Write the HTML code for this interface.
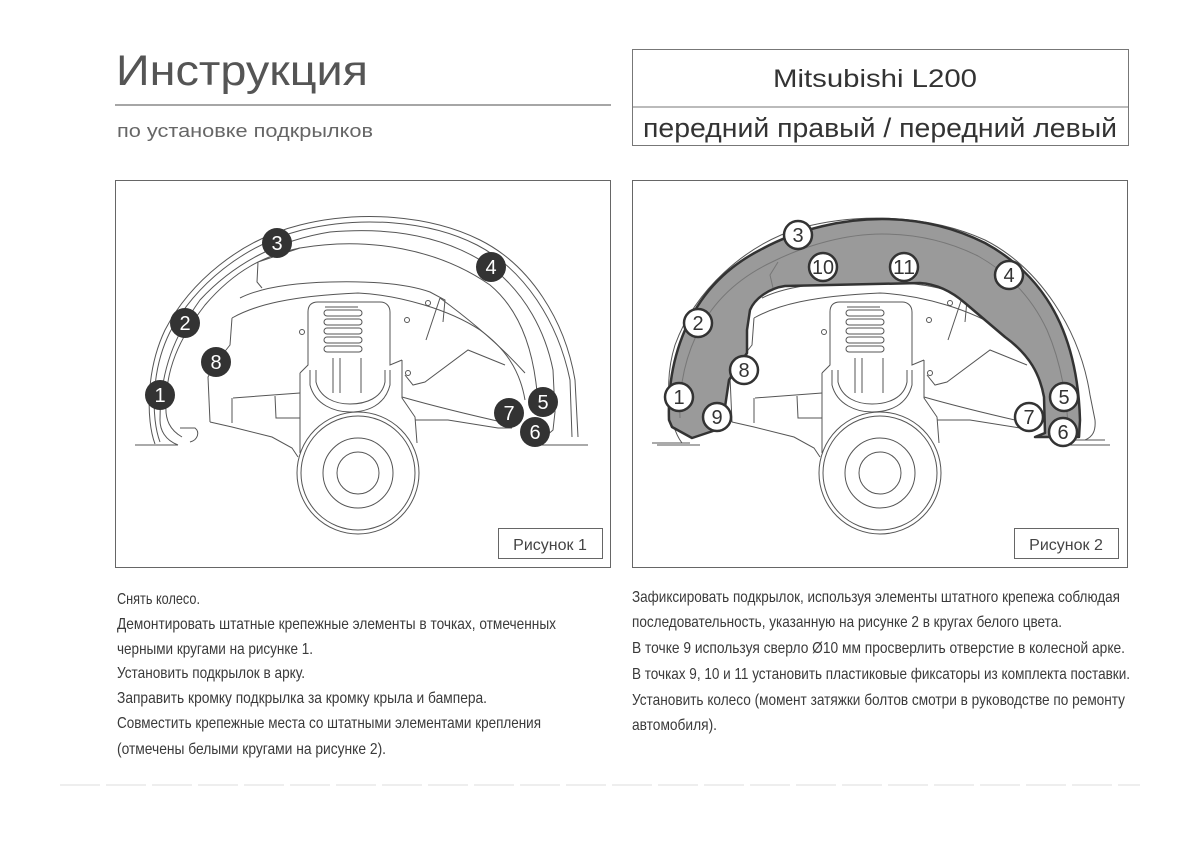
<!DOCTYPE html>
<html><head><meta charset="utf-8"><style>
html,body{margin:0;padding:0;background:#fff;}
svg{display:block;}
text{font-family:"Liberation Sans Narrow","Liberation Sans",sans-serif;}
</style></head><body>
<svg width="1200" height="848" viewBox="0 0 1200 848" xmlns="http://www.w3.org/2000/svg">
<defs>
<g id="mech" fill="none" stroke="#555" stroke-width="1">
  <path d="M232,318 C255,305 290,296 358,293 C400,295 450,310 480,330 C505,348 520,370 525,400"/>
  <path d="M240,298 C260,288 290,283 330,282 C370,281 405,283 430,292 L445,300 L443,322"/>
  <path d="M232,318 L230,345 C222,355 214,365 208,377 L210,422"/>
  <path d="M210,422 L232,427 L272,437 L292,448 L298,457"/>
  <path d="M233,398 L300,393 M232,398 L232,423 M275,396 L276,418 L300,418"/>
  <path d="M300,373 L300,453"/>
  <path d="M402,360 L402,398 L415,417 L417,443"/>
  <path d="M415,420 L448,420 L498,428 L512,428"/>
  <path d="M402,397 C430,405 470,415 515,425"/>
  <path d="M440,298 C470,320 500,345 525,373"/>
  <path d="M405,375 L413,385 L425,382 L468,350 L505,365"/>
  <path d="M426,340 L440,298"/>
  <path d="M300,373 L308,365 L308,312 C308,305 312,302 318,302 L380,302 C386,302 390,306 390,312 L390,365 L402,360"/>
  <path d="M310,370 L310,385 C315,405 335,412 350,412 C368,412 385,405 390,385 L390,370"/>
  <path d="M316,370 L316,382 C320,398 335,404 350,404 C366,404 382,398 385,382 L385,370"/>
  <path d="M333,358 L333,393 M361,358 L361,393 M340,358 L340,393"/>
  <path d="M325,307 L358,307"/>
  <rect x="324" y="310" width="38" height="6" rx="3"/>
  <rect x="324" y="319" width="38" height="6" rx="3"/>
  <rect x="324" y="328" width="38" height="6" rx="3"/>
  <rect x="324" y="337" width="38" height="6" rx="3"/>
  <rect x="324" y="346" width="38" height="6" rx="3"/>
  <circle cx="302" cy="332" r="2.5"/><circle cx="407" cy="320" r="2.5"/><circle cx="428" cy="303" r="2.5"/><circle cx="408" cy="373" r="2.5"/>
  <circle cx="358" cy="473" r="61" fill="#fff"/>
  <circle cx="358" cy="473" r="57"/>
  <circle cx="358" cy="473" r="35"/>
  <circle cx="358" cy="473" r="21"/>
  <path d="M135,445 L178,445 M538,445 L588,445"/>
</g>
<g id="fender" fill="none" stroke="#555" stroke-width="1">
  <path d="M155,444 C146,420 146,370 165,330 C190,282 240,240 300,225 C360,210 430,215 480,240 C530,265 565,320 575,380 L578,437"/>
  <path d="M160,442 C151,418 151,370 170,332 C195,285 243,245 302,230 C360,216 428,220 477,245 C525,270 558,322 570,380 L572,437"/>
  <path d="M178,445 C165,440 160,430 160,420 C160,370 175,335 200,300 C235,262 280,240 330,232 C400,226 455,240 495,270 C525,295 545,330 553,370 L555,412 L553,430 L545,437"/>
  <path d="M182,437 C170,430 165,420 166,405 C166,370 178,340 205,305 C235,270 265,255 300,248 L258,262 L257,282 L262,288"/>
  <path d="M180,428 L195,428 C200,432 198,440 190,442"/>
  <path d="M300,248 C370,236 440,250 490,285 C520,310 533,350 537,392"/>
</g>
</defs>

<text x="116" y="85" font-size="43" fill="#555" textLength="252" lengthAdjust="spacingAndGlyphs" style="font-family:'Liberation Sans',sans-serif">Инструкция</text>
<line x1="115" y1="105" x2="611" y2="105" stroke="#888" stroke-width="1.5"/>
<text x="117" y="137" font-size="18" fill="#666" textLength="256" lengthAdjust="spacingAndGlyphs" style="font-family:'Liberation Sans',sans-serif">по установке подкрылков</text>

<rect x="632.5" y="49.5" width="496" height="96" fill="none" stroke="#777"/>
<line x1="632" y1="107" x2="1128" y2="107" stroke="#777"/>
<text x="773" y="87" font-size="25" fill="#333" textLength="204" lengthAdjust="spacingAndGlyphs" style="font-family:'Liberation Sans',sans-serif">Mitsubishi L200</text>
<text x="643" y="137" font-size="27" fill="#333" textLength="474" lengthAdjust="spacingAndGlyphs" style="font-family:'Liberation Sans',sans-serif">передний правый / передний левый</text>

<rect x="115.5" y="180.5" width="495" height="387" fill="#fff" stroke="#666"/>
<use href="#fender"/>
<use href="#mech"/>
<g font-size="20" fill="#fff" text-anchor="middle" style="font-family:'Liberation Sans',sans-serif">
  <g fill="#333"><circle cx="160" cy="395" r="15"/><circle cx="185" cy="323" r="15"/><circle cx="277" cy="243" r="15"/><circle cx="491" cy="267" r="15"/><circle cx="543" cy="402" r="15"/><circle cx="535" cy="432" r="15"/><circle cx="509" cy="413" r="15"/><circle cx="216" cy="362" r="15"/></g>
  <text x="160" y="402">1</text><text x="185" y="330">2</text><text x="277" y="250">3</text><text x="491" y="274">4</text><text x="543" y="409">5</text><text x="535" y="439">6</text><text x="509" y="420">7</text><text x="216" y="369">8</text>
</g>
<rect x="498.5" y="528.5" width="104" height="30" fill="#fff" stroke="#666"/>
<text x="550" y="550" font-size="16" fill="#444" text-anchor="middle">Рисунок 1</text>

<rect x="632.5" y="180.5" width="495" height="387" fill="#fff" stroke="#666"/>
<g transform="translate(522,0)"><use href="#mech"/></g>
<g fill="none" stroke="#555" stroke-width="1">
  <path d="M682,443 C668,425 664,380 675,345 C695,290 745,245 800,228 C860,212 930,215 985,240 C1040,268 1080,330 1090,395 L1095,420 C1096,432 1092,437 1085,440"/>
  <path d="M652,443 L690,443 M1060,440 L1105,440"/>
</g>
<path d="M669,420 C668,390 672,360 685,330 C700,295 725,268 760,250 C800,228 845,219 882,219 C920,219 955,228 985,243 C1020,262 1045,290 1060,323 C1073,352 1079,385 1080,420 L1079,437 L1035,437 L1045,433 L1044,397 C1040,375 1030,355 1005,337 L965,303 C950,290 935,284 920,283 L785,286 C770,288 755,298 750,310 L747,330 L747,353 L729,380 L725,407 L722,428 L692,438 L672,427 Z" fill="#9a9a9a" stroke="#333" stroke-width="2.5" stroke-linejoin="round"/>
<path d="M680,418 C679,390 684,362 696,336 C712,302 738,278 772,262 C808,244 848,234 882,234 C918,234 950,242 978,256 C1010,274 1033,300 1047,330 C1060,360 1066,392 1068,425" fill="none" stroke="#777" stroke-width="1"/>
<path d="M778,262 L770,275 L773,288" fill="none" stroke="#777" stroke-width="1"/>
<g font-size="20" fill="#333" text-anchor="middle" style="font-family:'Liberation Sans',sans-serif">
  <g fill="#fff" stroke="#333" stroke-width="2.5">
  <circle cx="679" cy="397" r="14"/><circle cx="698" cy="323" r="14"/><circle cx="798" cy="235" r="14"/><circle cx="1009" cy="275" r="14"/><circle cx="1064" cy="397" r="14"/><circle cx="1063" cy="432" r="14"/><circle cx="1029" cy="417" r="14"/><circle cx="744" cy="370" r="14"/><circle cx="717" cy="417" r="14"/><circle cx="823" cy="267" r="14"/><circle cx="904" cy="267" r="14"/></g>
  <text x="679" y="404">1</text><text x="698" y="330">2</text><text x="798" y="242">3</text><text x="1009" y="282">4</text><text x="1064" y="404">5</text><text x="1063" y="439">6</text><text x="1029" y="424">7</text><text x="744" y="377">8</text><text x="717" y="424">9</text><text x="823" y="274" textLength="22" lengthAdjust="spacingAndGlyphs">10</text><text x="904" y="274" textLength="22" lengthAdjust="spacingAndGlyphs">11</text>
</g>
<rect x="1014.5" y="528.5" width="104" height="30" fill="#fff" stroke="#666"/>
<text x="1066" y="550" font-size="16" fill="#444" text-anchor="middle">Рисунок 2</text>

<g font-size="16" fill="#3a3a3a">
  <text x="117" y="604" textLength="83" lengthAdjust="spacingAndGlyphs">Снять колесо.</text>
  <text x="117" y="629" textLength="439" lengthAdjust="spacingAndGlyphs">Демонтировать штатные крепежные элементы в точках, отмеченных</text>
  <text x="117" y="654" textLength="196" lengthAdjust="spacingAndGlyphs">черными кругами на рисунке 1.</text>
  <text x="117" y="678" textLength="188" lengthAdjust="spacingAndGlyphs">Установить подкрылок в арку.</text>
  <text x="117" y="703" textLength="370" lengthAdjust="spacingAndGlyphs">Заправить кромку подкрылка за кромку крыла и бампера.</text>
  <text x="117" y="728" textLength="424" lengthAdjust="spacingAndGlyphs">Совместить крепежные места со штатными элементами крепления</text>
  <text x="117" y="754" textLength="269" lengthAdjust="spacingAndGlyphs">(отмечены белыми кругами на рисунке 2).</text>

  <text x="632" y="602" textLength="488" lengthAdjust="spacingAndGlyphs">Зафиксировать подкрылок, используя элементы штатного крепежа соблюдая</text>
  <text x="632" y="627" textLength="430" lengthAdjust="spacingAndGlyphs">последовательность, указанную на рисунке 2 в кругах белого цвета.</text>
  <text x="632" y="653" textLength="493" lengthAdjust="spacingAndGlyphs">В точке 9 используя сверло Ø10 мм просверлить отверстие в колесной арке.</text>
  <text x="632" y="679" textLength="498" lengthAdjust="spacingAndGlyphs">В точках 9, 10 и 11 установить пластиковые фиксаторы из комплекта поставки.</text>
  <text x="632" y="705" textLength="493" lengthAdjust="spacingAndGlyphs">Установить колесо (момент затяжки болтов смотри в руководстве по ремонту</text>
  <text x="632" y="730" textLength="85" lengthAdjust="spacingAndGlyphs">автомобиля).</text>
</g>
<line x1="60" y1="785" x2="1140" y2="785" stroke="#eee" stroke-width="2" stroke-dasharray="40 6"/>
</svg>
</body></html>
